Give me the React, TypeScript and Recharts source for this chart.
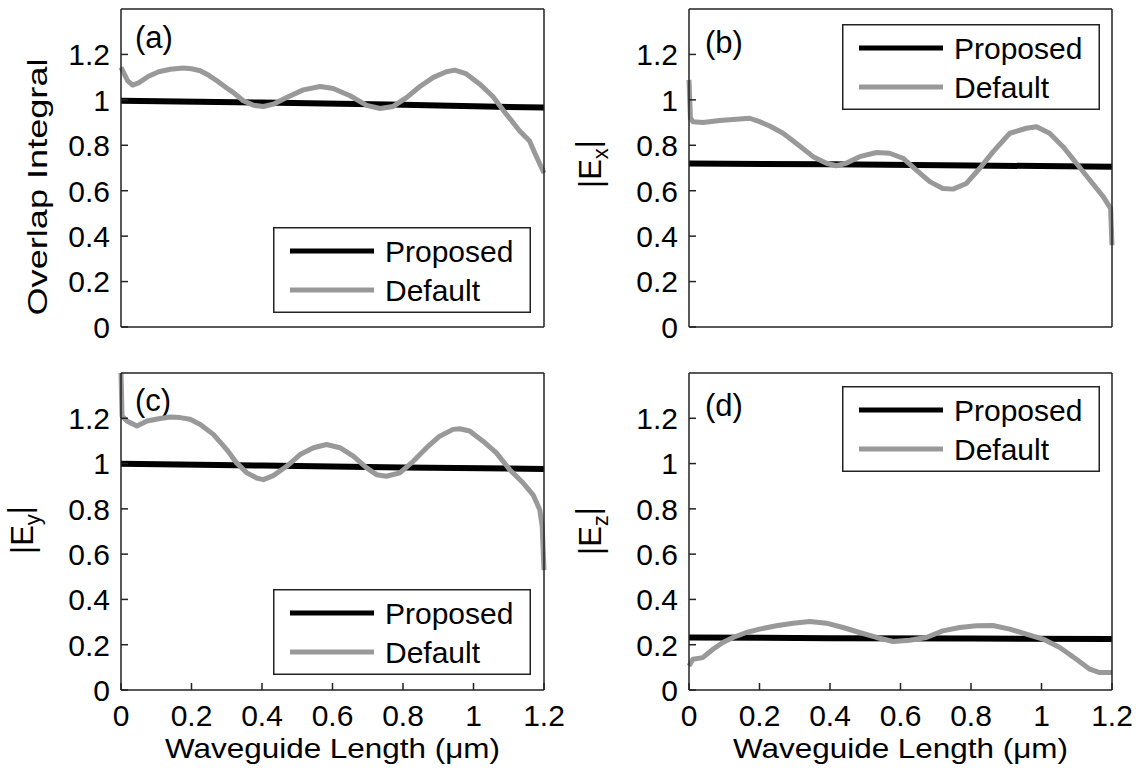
import { LineChart, Line, XAxis, YAxis, Legend } from 'recharts';

// x ticks / y ticks shared by all four panels
const xTicks = [0, 0.2, 0.4, 0.6, 0.8, 1, 1.2];
const yTicks = [0, 0.2, 0.4, 0.6, 0.8, 1, 1.2];

// proposed method: almost flat
const proposedX = [0, 0.4, 0.8, 1.2];
const proposedA = [0.996, 0.988, 0.978, 0.966];
const proposedB = [0.72, 0.716, 0.711, 0.706];
const proposedC = [0.999, 0.991, 0.983, 0.976];
const proposedD = [0.232, 0.229, 0.227, 0.225];

// default method
const defaultAx = [0, 0.019, 0.033, 0.05, 0.078, 0.107, 0.14, 0.177, 0.2, 0.225, 0.25, 0.272, 0.3, 0.319, 0.347, 0.376, 0.404, 0.432, 0.47, 0.517, 0.565, 0.602, 0.65, 0.697, 0.735, 0.772, 0.81, 0.848, 0.886, 0.923, 0.947, 0.98, 1.018, 1.055, 1.093, 1.131, 1.159, 1.178, 1.2];
const defaultAy = [1.143, 1.084, 1.065, 1.075, 1.104, 1.124, 1.135, 1.14, 1.137, 1.128, 1.107, 1.084, 1.052, 1.032, 0.996, 0.976, 0.971, 0.981, 1.01, 1.044, 1.059, 1.05, 1.018, 0.976, 0.962, 0.971, 1.01, 1.059, 1.099, 1.124, 1.131, 1.114, 1.069, 1.015, 0.937, 0.863, 0.819, 0.752, 0.678];

const defaultBx = [0, 0.004, 0.011, 0.04, 0.087, 0.134, 0.172, 0.2, 0.229, 0.267, 0.314, 0.352, 0.39, 0.418, 0.446, 0.484, 0.532, 0.569, 0.607, 0.645, 0.683, 0.72, 0.749, 0.787, 0.825, 0.863, 0.91, 0.957, 0.986, 1.023, 1.061, 1.099, 1.137, 1.175, 1.196, 1.2];
const defaultBy = [1.088, 0.92, 0.904, 0.9, 0.909, 0.915, 0.919, 0.904, 0.885, 0.853, 0.797, 0.75, 0.721, 0.71, 0.721, 0.75, 0.768, 0.765, 0.743, 0.691, 0.64, 0.61, 0.607, 0.632, 0.699, 0.772, 0.853, 0.875, 0.882, 0.853, 0.794, 0.721, 0.647, 0.574, 0.522, 0.36];

const defaultCx = [0, 0.003, 0.017, 0.045, 0.074, 0.111, 0.14, 0.168, 0.196, 0.225, 0.262, 0.3, 0.328, 0.357, 0.385, 0.404, 0.432, 0.47, 0.508, 0.546, 0.583, 0.621, 0.659, 0.697, 0.725, 0.753, 0.791, 0.829, 0.867, 0.904, 0.942, 0.961, 0.989, 1.027, 1.065, 1.103, 1.141, 1.169, 1.188, 1.195, 1.2];
const defaultCy = [1.4, 1.21, 1.188, 1.166, 1.188, 1.199, 1.206, 1.203, 1.196, 1.173, 1.129, 1.062, 1.003, 0.959, 0.936, 0.929, 0.947, 0.988, 1.04, 1.07, 1.084, 1.07, 1.033, 0.981, 0.951, 0.944, 0.959, 1.01, 1.07, 1.121, 1.151, 1.154, 1.144, 1.099, 1.047, 0.973, 0.914, 0.862, 0.796, 0.721, 0.529];

const defaultDx = [0, 0.011, 0.039, 0.068, 0.096, 0.125, 0.163, 0.2, 0.248, 0.295, 0.343, 0.39, 0.437, 0.484, 0.532, 0.579, 0.626, 0.673, 0.72, 0.768, 0.815, 0.862, 0.91, 0.957, 1.004, 1.052, 1.099, 1.137, 1.165, 1.2];
const defaultDy = [0.106, 0.136, 0.143, 0.18, 0.21, 0.232, 0.254, 0.269, 0.284, 0.295, 0.303, 0.295, 0.276, 0.254, 0.232, 0.214, 0.22, 0.232, 0.261, 0.276, 0.284, 0.285, 0.269, 0.247, 0.225, 0.188, 0.136, 0.092, 0.077, 0.077];

const seriesOrder = ['Proposed', 'Default'];

const FONT = '"Liberation Sans", Arial, Helvetica, sans-serif';
const AXIS = '#222';
const GRAY = '#999999';
const TICK_FONT = 30;

const toPoints = (xs: number[], ys: number[]) => xs.map((x, i) => ({ x, y: ys[i] }));

// custom tick text so the size is exactly what we ask for
const XTick = ({ x, y, payload }: any) => (
  <text x={x} y={y} dy="0.72em" textAnchor="middle" fontSize={TICK_FONT} fontFamily={FONT} fill="#000">
    {payload.value}
  </text>
);

const YTick = ({ x, y, payload }: any) => (
  <text x={x} y={y} dy="0.36em" textAnchor="end" fontSize={TICK_FONT} fontFamily={FONT} fill="#000">
    {payload.value}
  </text>
);

const LegendBox = ({ payload }: any) => {
  const items = seriesOrder
    .map((name) => (payload || []).find((p: any) => p.value === name))
    .filter(Boolean);
  return (
    <svg width={258} height={86} style={{ display: 'block' }}>
      <rect x={0.75} y={0.75} width={256.5} height={84.5} fill="#fff" stroke={AXIS} strokeWidth={1.5} />
      {items.map((p: any, i: number) => {
        const cy = 24 + i * 39;
        return (
          <g key={p.value}>
            <line x1={17} x2={101} y1={cy} y2={cy} stroke={p.color} strokeWidth={5} />
            <text x={112} y={cy} dominantBaseline="central" fontSize={30} fontFamily={FONT} fill="#000">
              {p.value}
            </text>
          </g>
        );
      })}
    </svg>
  );
};

interface PanelProps {
  left: number;
  top: number;
  width: number;
  height: number;
  margin: { top: number; right: number; bottom: number; left: number };
  xLabels: boolean;
  proposed: number[];
  defaults: { x: number; y: number }[];
  legendPos: { left: number; top: number };
  children?: React.ReactNode;
}

function Panel({ left, top, width, height, margin, xLabels, proposed, defaults, legendPos, children }: PanelProps) {
  const proposedPts = toPoints(proposedX, proposed);
  return (
    <div style={{ position: 'absolute', left, top }}>
      <LineChart width={width} height={height} margin={margin}>
        <XAxis
          dataKey="x"
          type="number"
          domain={[0, 1.2]}
          ticks={xTicks}
          height={xLabels ? 70 : 30}
          tick={xLabels ? XTick : false}
          tickSize={-7}
          tickMargin={21}
          stroke={AXIS}
          strokeWidth={1.5}
        />
        <XAxis
          xAxisId="top"
          dataKey="x"
          orientation="top"
          type="number"
          domain={[0, 1.2]}
          ticks={xTicks}
          height={1}
          tick={false}
          tickSize={-7}
          stroke={AXIS}
          strokeWidth={1.5}
        />
        <YAxis
          type="number"
          domain={[0, 1.4]}
          ticks={yTicks}
          width={80}
          tick={YTick}
          tickSize={-7}
          tickMargin={18}
          stroke={AXIS}
          strokeWidth={1.5}
        />
        <YAxis
          yAxisId="right"
          orientation="right"
          type="number"
          domain={[0, 1.4]}
          ticks={yTicks}
          width={1}
          tick={false}
          tickSize={-7}
          stroke={AXIS}
          strokeWidth={1.5}
        />
        {/* invisible series so the box axes (top/right) get drawn */}
        <Line
          xAxisId="top"
          yAxisId="right"
          data={proposedPts}
          dataKey="y"
          stroke="none"
          legendType="none"
          dot={false}
          activeDot={false}
          isAnimationActive={false}
        />
        <Line
          data={proposedPts}
          dataKey="y"
          name="Proposed"
          stroke="#000"
          strokeWidth={6}
          dot={false}
          isAnimationActive={false}
        />
        <Line
          data={defaults}
          dataKey="y"
          name="Default"
          stroke={GRAY}
          strokeWidth={5}
          strokeLinejoin="round"
          dot={false}
          isAnimationActive={false}
        />
        <Legend
          layout="vertical"
          align="center"
          verticalAlign="middle"
          content={LegendBox}
          wrapperStyle={{ left: legendPos.left, top: legendPos.top, width: 258, height: 86 }}
        />
        {children}
      </LineChart>
    </div>
  );
}

const titleProps = { fontFamily: FONT, fill: '#000' };

const VLabel = ({ x, y, sub }: { x: number; y: number; sub: string }) => (
  <text x={x} y={y} transform={`rotate(-90 ${x} ${y})`} textAnchor="middle" fontSize={31} {...titleProps}>
    |E
    <tspan fontSize={22} dy="0.3em">{sub}</tspan>
    <tspan dy="-0.3em">|</tspan>
  </text>
);

export default function App() {
  return (
    <div style={{ position: 'absolute', left: 0, top: 0, width: 1139, height: 770, background: '#fff', fontFamily: FONT }}>
      <Panel
        left={0}
        top={0}
        width={565}
        height={365}
        margin={{ top: 8, right: 20, bottom: 8, left: 41 }}
        xLabels={false}
        proposed={proposedA}
        defaults={toPoints(defaultAx, defaultAy)}
        legendPos={{ left: 273, top: 227 }}
      >
        <text x={47} y={187} transform="rotate(-90 47 187)" textAnchor="middle" fontSize={28} textLength={257} lengthAdjust="spacingAndGlyphs" {...titleProps}>
          Overlap Integral
        </text>
        <text x={135} y={48} fontSize={31} {...titleProps}>(a)</text>
      </Panel>
      <Panel
        left={565}
        top={0}
        width={574}
        height={365}
        margin={{ top: 8, right: 26, bottom: 8, left: 44 }}
        xLabels={false}
        proposed={proposedB}
        defaults={toPoints(defaultBx, defaultBy)}
        legendPos={{ left: 277, top: 24 }}
      >
        <VLabel x={36} y={164} sub="x" />
        <text x={140} y={53} fontSize={31} {...titleProps}>(b)</text>
      </Panel>
      <Panel
        left={0}
        top={365}
        width={565}
        height={405}
        margin={{ top: 7, right: 20, bottom: 10, left: 41 }}
        xLabels
        proposed={proposedC}
        defaults={toPoints(defaultCx, defaultCy)}
        legendPos={{ left: 273, top: 224 }}
      >
        <VLabel x={33} y={165} sub="y" />
        <text x={135} y={46} fontSize={31} {...titleProps}>(c)</text>
        <text x={332.5} y={393} textAnchor="middle" fontSize={28} textLength={335} lengthAdjust="spacingAndGlyphs" {...titleProps}>
          Waveguide Length (μm)
        </text>
      </Panel>
      <Panel
        left={565}
        top={365}
        width={574}
        height={405}
        margin={{ top: 7, right: 26, bottom: 10, left: 44 }}
        xLabels
        proposed={proposedD}
        defaults={toPoints(defaultDx, defaultDy)}
        legendPos={{ left: 277, top: 21 }}
      >
        <VLabel x={36} y={166} sub="z" />
        <text x={140} y={51} fontSize={31} {...titleProps}>(d)</text>
        <text x={335.5} y={393} textAnchor="middle" fontSize={28} textLength={335} lengthAdjust="spacingAndGlyphs" {...titleProps}>
          Waveguide Length (μm)
        </text>
      </Panel>
    </div>
  );
}
